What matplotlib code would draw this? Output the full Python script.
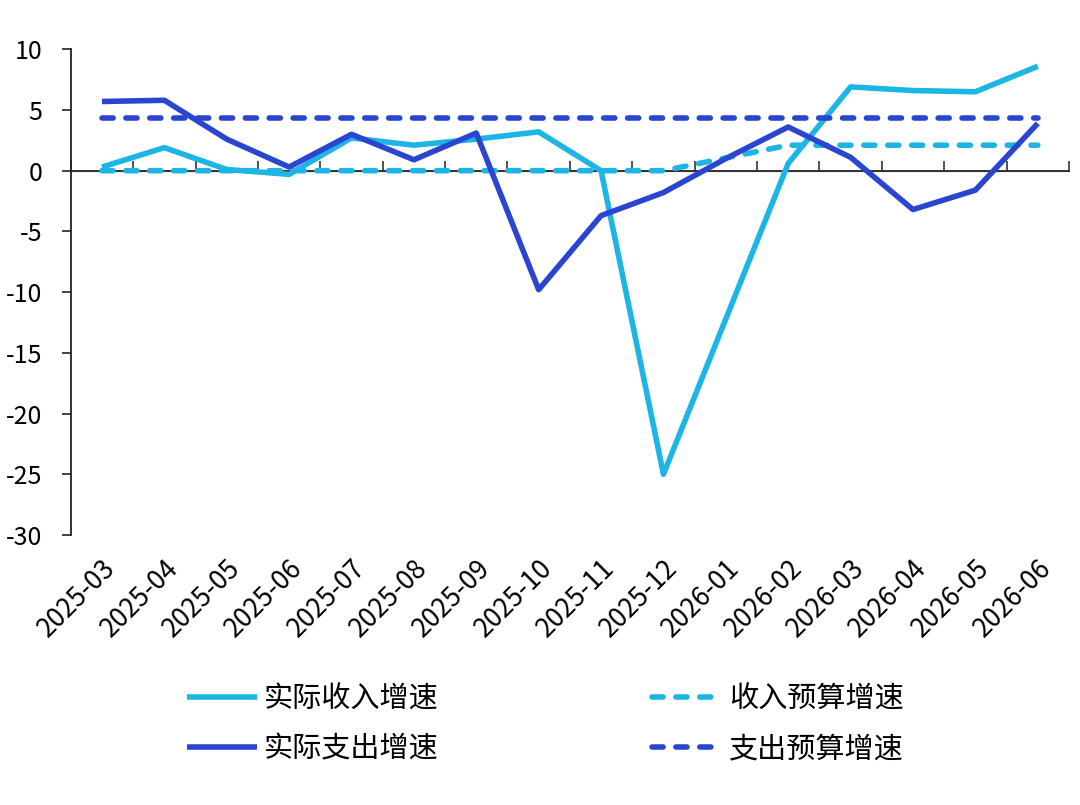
import matplotlib
matplotlib.use('Agg')
from matplotlib import pyplot as plt
import numpy as np

plt.rcParams['font.family'] = ['Noto Sans CJK SC', 'DejaVu Sans']
plt.rcParams['axes.unicode_minus'] = False

months = ['2025-03', '2025-04', '2025-05', '2025-06', '2025-07', '2025-08',
          '2025-09', '2025-10', '2025-11', '2025-12', '2026-01', '2026-02',
          '2026-03', '2026-04', '2026-05', '2026-06']
income_actual = [0.3, 1.9, 0.1, -0.3, 2.7, 2.1, 2.6, 3.2, 0.0, -25.0,
                 -12.2, 0.6, 6.9, 6.6, 6.5, 8.6]
expend_actual = [5.7, 5.8, 2.6, 0.3, 3.0, 0.9, 3.1, -9.8, -3.7, -1.8,
                 1.0, 3.6, 1.1, -3.2, -1.6, 3.9]
income_budget = [0, 0, 0, 0, 0, 0, 0, 0, 0, 0, 1.05, 2.1, 2.1, 2.1, 2.1, 2.1]
expend_budget = [4.3, 4.3, 4.3, 4.3, 4.3, 4.3, 4.3, 4.3, 4.3, 4.3,
                 4.3, 4.3, 4.3, 4.3, 4.3, 4.3]
yticks = [10, 5, 0, -5, -10, -15, -20, -25, -30]

light = '#1DB4E6'
dark = '#2A45D0'
lw = 4.0
dash = (2.0, 2.3)

fig = plt.figure(figsize=(10.8, 8.05), dpi=100)
ax = fig.add_axes([0.0655, 0.3354, 0.9243, 0.6034])
x = np.arange(len(months))

l1, = ax.plot(x, income_actual, color=light, lw=lw, solid_capstyle='butt', label='实际收入增速')
l3, = ax.plot(x, income_budget, color=light, lw=lw, ls=(0, dash), dash_capstyle='round', label='收入预算增速')
l2, = ax.plot(x, expend_actual, color=dark, lw=lw, solid_capstyle='butt', label='实际支出增速')
l4, = ax.plot(x, expend_budget, color=dark, lw=lw, ls=(0, dash), dash_capstyle='round', label='支出预算增速')

ax.axhline(0, color='#333333', lw=1.4, zorder=1)

ax.set_xlim(-0.5, len(months) - 0.5)
ax.set_ylim(-30, 10)
ax.set_yticks(yticks)
ax.set_yticklabels([str(v) for v in yticks])
ax.tick_params(axis='y', labelsize=18, length=6.5, width=1.2, pad=14, color='#222222')

ax.set_xticks(x)
ax.set_xticklabels(months, rotation=45, ha='right', rotation_mode='anchor')
ax.tick_params(axis='x', labelsize=19, length=0, pad=14)

for s in ['top', 'right', 'bottom']:
    ax.spines[s].set_visible(False)
ax.spines['left'].set_linewidth(1.3)
ax.spines['left'].set_color('#222222')

# tick marks on the zero line, between months
zero_pos = (0 - (-30)) / 40.0
sec = ax.secondary_xaxis(zero_pos)
sec.set_xticks(np.arange(len(months) + 1) - 0.5)
sec.set_xticklabels([])
sec.tick_params(axis='x', length=7, width=1.2, color='#333333')
sec.spines['bottom'].set_visible(False)

fig.legend([l1, l2, l3, l4], ['实际收入增速', '实际支出增速', '收入预算增速', '支出预算增速'],
           ncol=2, loc='center', bbox_to_anchor=(0.505, 0.1), frameon=False,
           fontsize=21, handlelength=2.4, handletextpad=0.25, columnspacing=7.3,
           labelspacing=0.7)

fig.savefig('out.png', dpi=100)
